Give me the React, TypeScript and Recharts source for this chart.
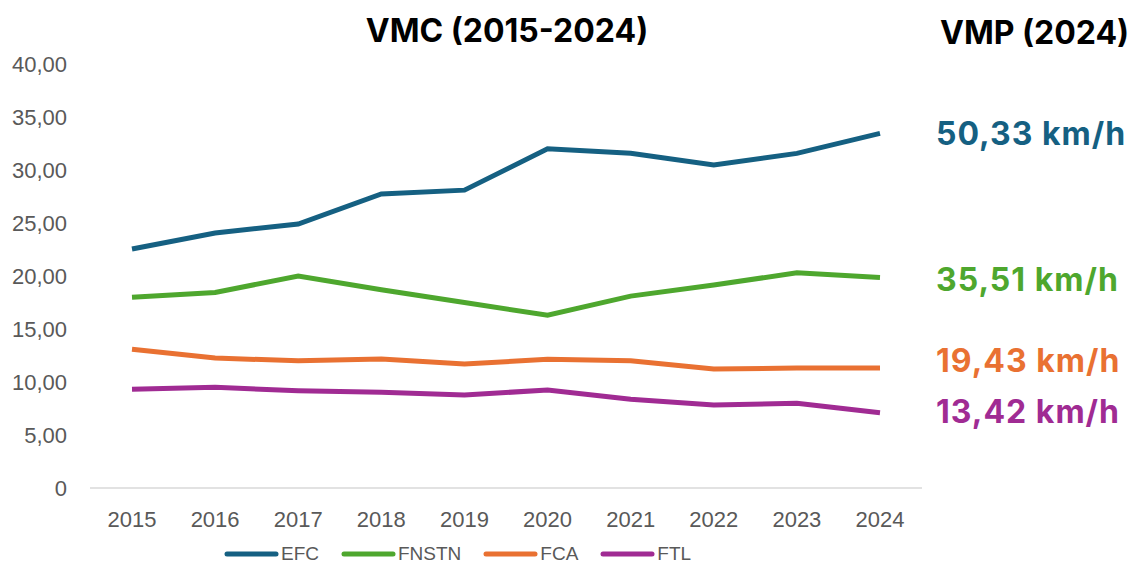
import React from "react";
import { LineChart, Line, XAxis, YAxis, Legend } from "recharts";

const years = ["2015", "2016", "2017", "2018", "2019", "2020", "2021", "2022", "2023", "2024"];
const efc = [22.55, 24.06, 24.9, 27.74, 28.1, 32.0, 31.57, 30.47, 31.57, 33.46];
const fnstn = [18.0, 18.45, 20.0, 18.7, 17.5, 16.3, 18.1, 19.15, 20.3, 19.85];
const fca = [13.1, 12.26, 12.0, 12.17, 11.7, 12.14, 12.0, 11.23, 11.32, 11.32];
const ftl = [9.31, 9.5, 9.18, 9.03, 8.77, 9.25, 8.37, 7.83, 7.99, 7.1];
const yTicks = [0, 5, 10, 15, 20, 25, 30, 35, 40];

const seriesNames = ["EFC", "FNSTN", "FCA", "FTL"];
const seriesColors = ["#156082", "#4EA72E", "#E97132", "#A02B93"];
const vmpLabels = ["50,33 km/h", "35,51 km/h", "19,43 km/h", "13,42 km/h"];
const vmpShift = [0, 2, -8, -1];

const data = years.map((year, i) => ({
  year,
  EFC: efc[i],
  FNSTN: fnstn[i],
  FCA: fca[i],
  FTL: ftl[i],
}));

const titleFont = "Inter, 'Open Sans', sans-serif";
const tickFont = "'Liberation Sans', Arial, sans-serif";

const fmt = (v: number) => (v === 0 ? "0" : v.toFixed(2).replace(".", ","));

const makeEndLabel = (idx: number) => (props: any) => {
  const { x, y, index } = props;
  if (index !== years.length - 1) return null;
  return (
    <text
      x={x + 56}
      y={y + vmpShift[idx]}
      dy="0.36em"
      fill={seriesColors[idx]}
      fontSize={32}
      fontWeight={700}
      letterSpacing={1}
      fontFamily={titleFont}
    >
      {vmpLabels[idx]}
    </text>
  );
};

const LegendContent = () => (
  <div style={{ display: "flex", alignItems: "center", fontFamily: tickFont, fontSize: 19, color: "#595959" }}>
    {seriesNames.map((name, i) => (
      <div key={name} style={{ display: "flex", alignItems: "center", marginRight: 22 }}>
        <svg width={55} height={8} style={{ marginRight: 2 }}>
          <line x1={3} y1={4} x2={52} y2={4} stroke={seriesColors[i]} strokeWidth={5} strokeLinecap="round" />
        </svg>
        <span>{name}</span>
      </div>
    ))}
  </div>
);

export default function App() {
  return (
    <div style={{ position: "absolute", left: 0, top: 0, width: 1128, height: 565, background: "#fff" }}>
      <div
        style={{
          position: "absolute",
          left: 0,
          width: 1014,
          top: 11,
          textAlign: "center",
          fontFamily: titleFont,
          fontWeight: 700,
          fontSize: 32,
          color: "#000",
        }}
      >
        VMC (2015-2024)
      </div>
      <div
        style={{
          position: "absolute",
          left: 940,
          top: 13,
          fontFamily: titleFont,
          fontWeight: 700,
          fontSize: 32,
          color: "#000",
          whiteSpace: "nowrap",
        }}
      >
        VMP (2024)
      </div>
      <LineChart width={1128} height={565} data={data} margin={{ top: 64, right: 206, left: 0, bottom: 0 }}>
        <XAxis
          dataKey="year"
          height={45}
          padding={{ left: 42, right: 42 }}
          tickSize={0}
          tickMargin={23}
          axisLine={{ stroke: "#d9d9d9", strokeWidth: 1.5 }}
          tick={{ fill: "#595959", fontSize: 22, fontFamily: tickFont }}
        />
        <YAxis
          width={90}
          domain={[0, 40]}
          ticks={yTicks}
          tickFormatter={fmt}
          axisLine={false}
          tickSize={0}
          tickMargin={23}
          tick={{ fill: "#595959", fontSize: 22, fontFamily: tickFont }}
        />
        <Legend
          verticalAlign="bottom"
          height={32}
          content={<LegendContent />}
          wrapperStyle={{ left: 224, width: 600, top: 543, bottom: "auto" }}
        />
        {seriesNames.map((name, i) => (
          <Line
            key={name}
            dataKey={name}
            stroke={seriesColors[i]}
            strokeWidth={5}
            dot={false}
            activeDot={false}
            type="linear"
            isAnimationActive={false}
            label={makeEndLabel(i)}
          />
        ))}
      </LineChart>
    </div>
  );
}
